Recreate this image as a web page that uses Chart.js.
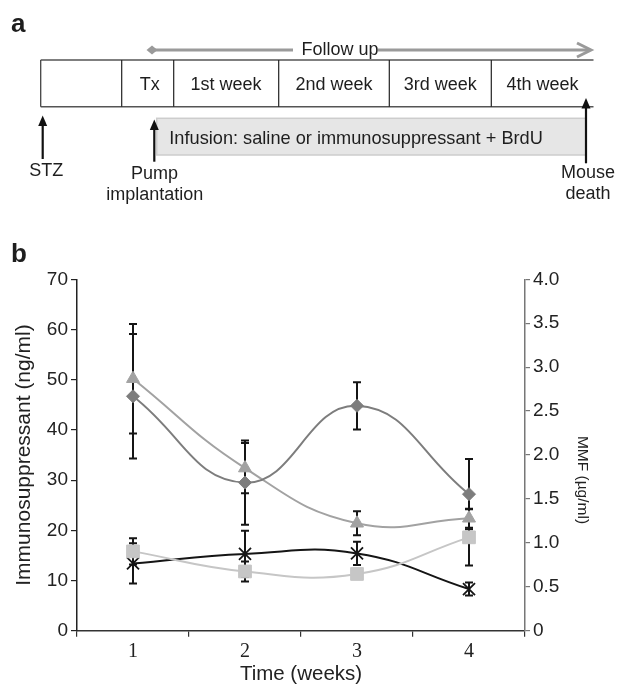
<!DOCTYPE html>
<html>
<head>
<meta charset="utf-8">
<script src="https://cdn.jsdelivr.net/npm/chart.js@4.4.1/dist/chart.umd.min.js"></script>
<style>
  html, body { margin: 0; padding: 0; background: #fff; overflow: hidden; }
  #wrap { position: relative; width: 617px; height: 687px; }
  #c { position: absolute; left: 0; top: 0; }
  #panelA { position: absolute; left: 0; top: 0; pointer-events: none; }
  #panelA text { font-family: 'Liberation Sans', Arial, sans-serif; fill: #1e1e1e; }
</style>
</head>
<body>
<div id="wrap">
  <canvas id="c" width="617" height="687"></canvas>
  <svg id="panelA" width="617" height="687" viewBox="0 0 617 687">
    <text x="11" y="32" style="font-size:26px;font-weight:bold">a</text>
    <text x="11" y="262" style="font-size:26px;font-weight:bold">b</text>

    <!-- Follow up arrow -->
    <line x1="152" y1="50" x2="293" y2="50" stroke="#9a9a9a" stroke-width="3"/>
    <line x1="378" y1="50" x2="590" y2="50" stroke="#9a9a9a" stroke-width="3"/>
    <polygon points="146.5,50 152,45.5 157.5,50 152,54.5" fill="#9a9a9a"/>
    <polyline points="577,43 591,50 577,57" fill="none" stroke="#9a9a9a" stroke-width="3"/>
    <text x="301.5" y="55" style="font-size:18px">Follow up</text>

    <!-- timeline box -->
    <line x1="40.7" y1="60" x2="593.5" y2="60" stroke="#555" stroke-width="1.5"/>
    <line x1="40.7" y1="106.7" x2="593.5" y2="106.7" stroke="#555" stroke-width="1.5"/>
    <line x1="40.7" y1="60" x2="40.7" y2="106.7" stroke="#444" stroke-width="1.3"/>
    <line x1="121.7" y1="60" x2="121.7" y2="106.7" stroke="#222" stroke-width="1.2"/>
    <line x1="173.7" y1="60" x2="173.7" y2="106.7" stroke="#222" stroke-width="1.2"/>
    <line x1="278.7" y1="60" x2="278.7" y2="106.7" stroke="#222" stroke-width="1.2"/>
    <line x1="389.3" y1="60" x2="389.3" y2="106.7" stroke="#222" stroke-width="1.2"/>
    <line x1="491.3" y1="60" x2="491.3" y2="106.7" stroke="#222" stroke-width="1.2"/>
    <text x="149.7" y="90" text-anchor="middle" style="font-size:18px">Tx</text>
    <text x="226" y="90" text-anchor="middle" style="font-size:18px">1st week</text>
    <text x="334" y="90" text-anchor="middle" style="font-size:18px">2nd week</text>
    <text x="440.3" y="90" text-anchor="middle" style="font-size:18px">3rd week</text>
    <text x="542.5" y="90" text-anchor="middle" style="font-size:18px">4th week</text>

    <!-- infusion bar -->
    <rect x="156.7" y="118.3" width="429.3" height="36.7" fill="#e6e6e6" stroke="#cdcdcd" stroke-width="1.5"/>
    <text x="169.3" y="144" style="font-size:18.2px">Infusion: saline or immunosuppressant + BrdU</text>

    <!-- arrows -->
    <line x1="42.7" y1="159" x2="42.7" y2="124" stroke="#111" stroke-width="2.2"/>
    <polygon points="42.7,115.5 38.2,126 47.2,126" fill="#111"/>
    <line x1="154.3" y1="161.7" x2="154.3" y2="128" stroke="#111" stroke-width="2.2"/>
    <polygon points="154.3,119.5 149.8,130 158.8,130" fill="#111"/>
    <line x1="586" y1="163.3" x2="586" y2="106" stroke="#111" stroke-width="2.2"/>
    <polygon points="586,98 581.5,108.5 590.5,108.5" fill="#111"/>

    <text x="46.3" y="176" text-anchor="middle" style="font-size:18px">STZ</text>
    <text x="154.5" y="179" text-anchor="middle" style="font-size:18px">Pump</text>
    <text x="154.7" y="200" text-anchor="middle" style="font-size:18px">implantation</text>
    <text x="588" y="178" text-anchor="middle" style="font-size:18px">Mouse</text>
    <text x="588" y="199" text-anchor="middle" style="font-size:18px">death</text>
  </svg>
</div>
<script>
// ---- data ----
const weeks = ['1', '2', '3', '4'];
const diamondVals = [46.7, 29.5, 44.8, 27.2];
const diamondErr  = [12.4, 8.4, 4.7, 7.0];
const triangleVals = [50.2, 32.4, 21.4, 22.4];
const triangleErr  = [10.9, 5.0, 2.4, 1.9];
const squareVals = [15.8, 11.8, 11.3, 18.6];
const squareErr  = [2.6, 2.0, 1.0, 5.6];
const crossVals = [13.4, 15.3, 15.4, 8.3];
const crossErr  = [4.0, 4.6, 2.3, 1.3];

const leftTitle = 'Immunosuppressant (ng/ml)';
const rightTitle = 'MMF (µg/ml)';
const xTitle = 'Time (weeks)';

Chart.defaults.font.family = "'Liberation Sans', Arial, sans-serif";
Chart.defaults.color = '#222';

const errorBars = {
  id: 'errorBars',
  beforeDatasetsDraw(chart) {
    const ctx = chart.ctx;
    const ys = chart.scales.y;
    ctx.save();
    ctx.strokeStyle = '#151515';
    ctx.lineWidth = 2;
    chart.data.datasets.forEach((ds, i) => {
      const meta = chart.getDatasetMeta(i);
      ds.data.forEach((v, j) => {
        const e = ds.errors[j];
        const x = meta.data[j].x;
        const yt = ys.getPixelForValue(v + e);
        const yb = ys.getPixelForValue(v - e);
        ctx.beginPath();
        ctx.moveTo(x, yt); ctx.lineTo(x, yb);
        ctx.moveTo(x - 4, yt); ctx.lineTo(x + 4, yt);
        ctx.moveTo(x - 4, yb); ctx.lineTo(x + 4, yb);
        ctx.stroke();
      });
    });
    ctx.restore();
  }
};

const rightTitlePlugin = {
  id: 'rightTitle',
  afterDraw(chart) {
    const s = chart.scales.y1;
    const ctx = chart.ctx;
    ctx.save();
    ctx.translate(s.right - 35, (chart.chartArea.top + chart.chartArea.bottom) / 2 + 25);
    ctx.rotate(Math.PI / 2);
    ctx.font = "15.5px 'Liberation Sans', Arial, sans-serif";
    ctx.fillStyle = '#222';
    ctx.textAlign = 'center';
    ctx.textBaseline = 'middle';
    ctx.fillText(rightTitle, 0, 0);
    ctx.restore();
  }
};

const mk = (label, data, errors, color, style, radius, extra) => Object.assign({
  label, data, errors,
  borderColor: color, backgroundColor: color,
  pointBackgroundColor: color, pointBorderColor: color,
  pointStyle: style, pointRadius: radius, pointBorderWidth: 1,
  borderWidth: 2, tension: 0.45, fill: false, yAxisID: 'y'
}, extra || {});

new Chart(document.getElementById('c'), {
  type: 'line',
  data: {
    labels: weeks,
    datasets: [
      mk('diamond', diamondVals, diamondErr, '#7d7d7d', 'rectRot', 6.5),
      mk('triangle', triangleVals, triangleErr, '#a2a2a2', 'triangle', 7.5),
      mk('square', squareVals, squareErr, '#c6c6c6', 'rect', 9),
      mk('cross', crossVals, crossErr, '#151515', 'crossRot', 8.5, { pointBorderWidth: 1.8 })
    ]
  },
  options: {
    responsive: false,
    animation: false,
    layout: { padding: { top: 279.3, left: 0, right: 0, bottom: 0 } },
    plugins: { legend: { display: false }, tooltip: { enabled: false } },
    scales: {
      x: {
        type: 'category', offset: true,
        grid: { offset: true, drawOnChartArea: false, tickLength: 6, color: '#333', lineWidth: 1.2 },
        border: { color: '#333', width: 1.5 },
        ticks: { font: { family: "'Liberation Serif', 'Times New Roman', serif", size: 20 }, color: '#222', padding: 3 },
        title: { display: true, text: xTitle, font: { size: 20.5 }, color: '#222', padding: { top: 0, bottom: 0 } },
        afterFit: s => { s.height = 56.3; }
      },
      y: {
        position: 'left', min: 0, max: 70,
        ticks: { stepSize: 10, font: { size: 19 }, color: '#222', padding: 3 },
        grid: { drawOnChartArea: false, tickLength: 6, color: '#222', lineWidth: 1.2 },
        border: { color: '#222', width: 1.5 },
        title: { display: true, text: leftTitle, font: { size: 21 }, color: '#222', padding: { top: 11.4, bottom: 0 } },
        afterFit: s => { s.width = 77; }
      },
      y1: {
        position: 'right', min: 0, max: 4,
        ticks: { stepSize: 0.5, font: { size: 19 }, color: '#222', padding: 3,
                 callback: v => v === 0 ? '0' : v.toFixed(1) },
        grid: { drawOnChartArea: false, tickLength: 5, color: '#777', lineWidth: 1.2 },
        border: { color: '#777', width: 1.5 },
        afterFit: s => { s.width = 92; }
      }
    }
  },
  plugins: [errorBars, rightTitlePlugin]
});
</script>
</body>
</html>
